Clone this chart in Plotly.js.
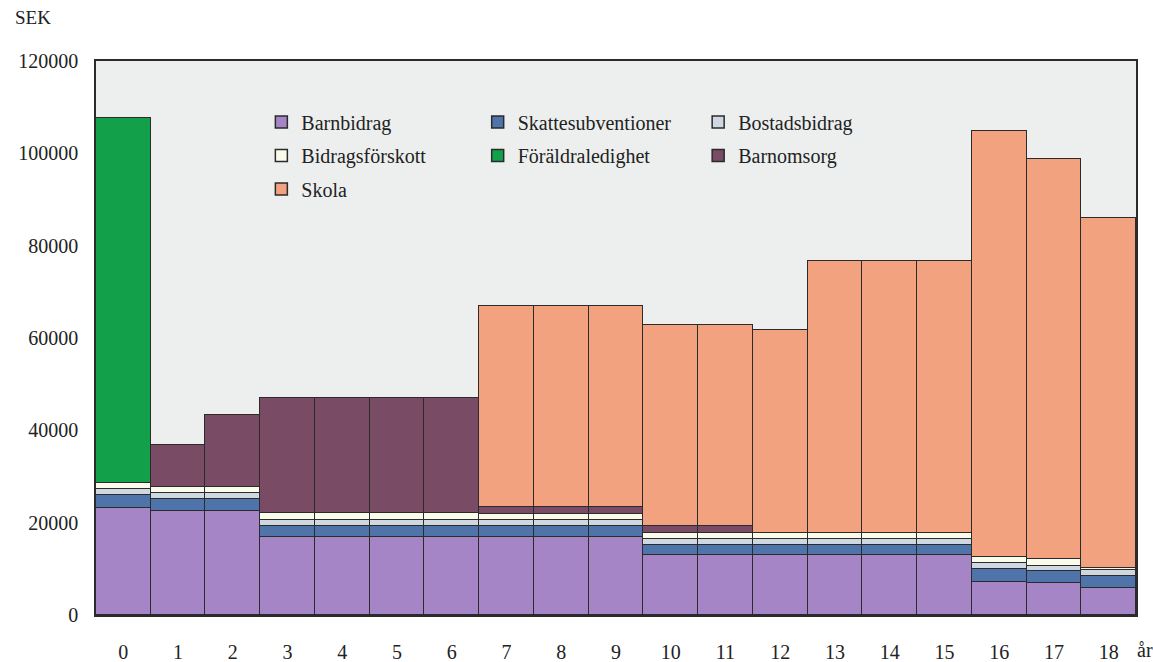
<!DOCTYPE html>
<html><head><meta charset="utf-8">
<script src="https://cdn.plot.ly/plotly-3.0.1.min.js"></script>
<style>html,body{margin:0;padding:0;background:#fff}</style>
</head><body><div id="chart" style="width:1153px;height:662px"></div>
<script>
const ages = ['0','1','2','3','4','5','6','7','8','9','10','11','12','13','14','15','16','17','18'];
const barnbidrag        = [23200,22500,22500,17000,17000,17000,17000,17000,17000,17000,12900,12900,12900,12900,12900,12900,7200,6900,5900];
const skattesubventioner= [2900,2700,2700,2200,2200,2200,2200,2200,2200,2200,2300,2300,2300,2300,2300,2300,2700,2700,2600];
const bostadsbidrag     = [1200,1200,1200,1400,1400,1400,1400,1300,1300,1300,1200,1200,1200,1200,1200,1200,1300,1100,1300];
const bidragsforskott   = [1300,1400,1400,1400,1400,1400,1400,1300,1300,1300,1300,1300,1300,1300,1300,1300,1300,1400,300];
const foraldraledighet  = [79100,null,null,null,null,null,null,null,null,null,null,null,null,null,null,null,null,null,null];
const barnomsorg        = [null,9000,15500,24900,24900,24900,24900,1500,1500,1500,1500,1500,null,null,null,null,null,null,null];
const skola             = [null,null,null,null,null,null,null,43700,43700,43700,43700,43700,44000,59000,59000,59000,92400,86600,76000];

const seriesNames = ['Barnbidrag','Skattesubventioner','Bostadsbidrag','Bidragsförskott','Föräldraledighet','Barnomsorg','Skola'];
const seriesData = [barnbidrag, skattesubventioner, bostadsbidrag, bidragsforskott, foraldraledighet, barnomsorg, skola];
const seriesColors = ['#a585c6','#4f74aa','#cfd8e0','#fbfbec','#12a04b','#7a4b64','#f2a27e'];
const seriesLegend = ['legend','legend2','legend3','legend','legend2','legend3','legend'];

const FONT = 'Liberation Serif, Times New Roman, serif';
const traces = seriesNames.map((n,i)=>({
  type:'bar', name:n, x:ages, y:seriesData[i],
  marker:{color:seriesColors[i], line:{color:'#2b2b2b', width:1.5}},
  legend: seriesLegend[i], legendgroup:n, hoverinfo:'name+y'
}));

const legendBase = {
  orientation:'v', xanchor:'left', yanchor:'top', y:0.925,
  bgcolor:'rgba(0,0,0,0)', borderwidth:0, traceorder:'grouped',
  tracegroupgap:4.5, font:{family:FONT, size:20, color:'#222'}
};

const layout = {
  width:1153, height:662,
  margin:{l:96, r:17, t:61, b:47},
  paper_bgcolor:'#ffffff', plot_bgcolor:'#edefee',
  barmode:'stack', bargap:0,
  font:{family:FONT, size:20, color:'#222'},
  xaxis:{type:'category', showgrid:false, zeroline:false, showline:true, mirror:true,
         linecolor:'#2b2b2b', linewidth:1.5, ticks:'', ticklabelstandoff:18,
         tickfont:{family:FONT, size:20, color:'#222'}},
  yaxis:{range:[0,120000], dtick:20000, showgrid:false, zeroline:false, showline:true, mirror:true,
         linecolor:'#2b2b2b', linewidth:1.5, ticks:'', ticklabelstandoff:12,
         tickfont:{family:FONT, size:20, color:'#222'}, tickformat:'d'},
  legend: Object.assign({}, legendBase, {x:0.159}),
  legend2: Object.assign({}, legendBase, {x:0.367}),
  legend3: Object.assign({}, legendBase, {x:0.579}),
  annotations:[
    {text:'SEK', xref:'paper', yref:'paper', x:-0.08, y:1.079, xanchor:'left', yanchor:'middle',
     showarrow:false, font:{family:FONT, size:19, color:'#222'}},
    {text:'år', xref:'paper', yref:'paper', x:1.0087, y:-0.063, xanchor:'center', yanchor:'middle',
     showarrow:false, font:{family:FONT, size:20, color:'#222'}}
  ]
};
Plotly.newPlot('chart', traces, layout, {displayModeBar:false, responsive:false});
</script></body></html>
